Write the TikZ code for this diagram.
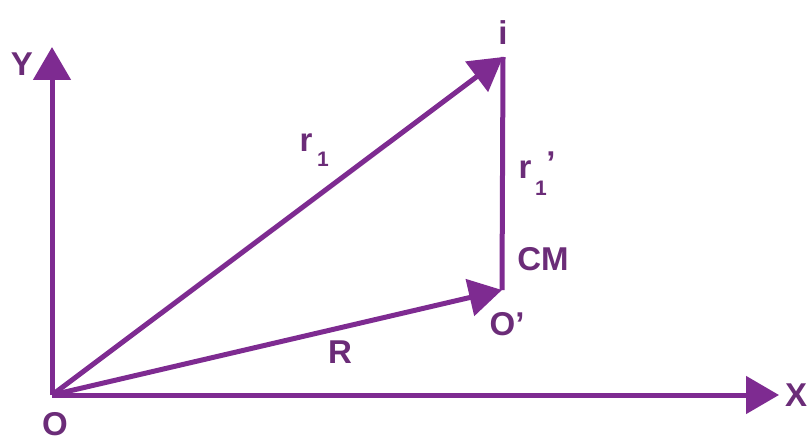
\documentclass[tikz,border=0pt]{standalone}
\usepackage{fontspec}
\setmainfont{Liberation Sans}
\usetikzlibrary{arrows.meta}
\definecolor{vline}{HTML}{7E2B91}
\definecolor{vtext}{HTML}{6B2C78}
\tikzset{
  vec/.style={draw=vline, line width=5pt, -{Triangle[length=33pt,width=37pt]}},
  seg/.style={draw=vline, line width=5pt},
  lbl/.style={text=vtext, inner sep=0pt, font=\bfseries\fontsize{33}{33}\selectfont},
  sub/.style={text=vtext, inner sep=0pt, font=\bfseries\fontsize{21}{21}\selectfont}
}
\begin{document}
\begin{tikzpicture}[x=1pt,y=-1pt]
\useasboundingbox (0,0) rectangle (810,443);
\coordinate (O) at (52,395);
\coordinate (Ytip) at (52,47);
\coordinate (Xtip) at (779,395);
\coordinate (I) at (503,57);
\coordinate (Op) at (502,290);
% axes
\draw[vec] (O) -- (Ytip);
\draw[vec] (O) -- (Xtip);
% vectors
\draw[seg] (Op) -- (I);
\draw[vec] (O) -- (I);
\draw[vec] (O) -- (Op);
% labels
\node[lbl] (ly) at (22,64) {Y};
\node[lbl] (lx) at (796,395) {X};
\node[lbl] (lo) at (55,424) {O};
\node[lbl] (li) at (503,33) {i};
\node[lbl] (lr) at (306,143) {r};
\node[sub] (lr1) at (323,159) {1};
\node[lbl] (lrp) at (525,170) {r};
\node[sub] (lrp1) at (541,188) {1};
\node[lbl] (lrpq) at (551,163) {'};
\node[lbl] (lcm) at (543,259) {CM};
\node[lbl] (lop) at (507,324) {O'};
\node[lbl] (lR) at (340,352) {R};
\end{tikzpicture}
\end{document}
